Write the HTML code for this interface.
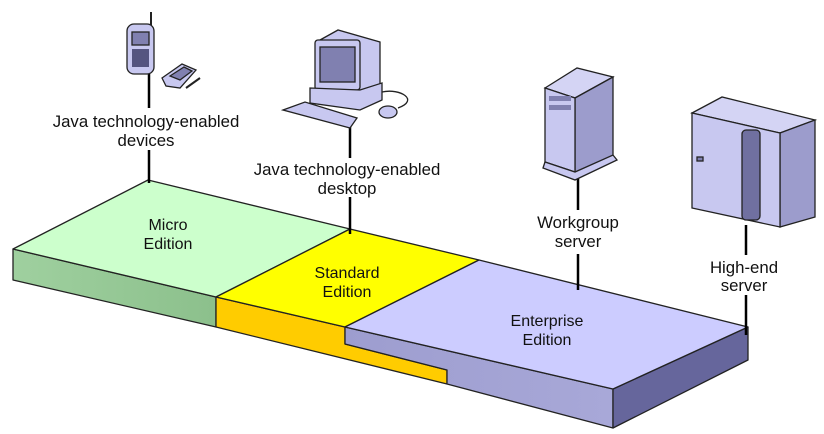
<!DOCTYPE html>
<html><head><meta charset="utf-8"><style>
html,body{margin:0;padding:0;background:#fff;}
svg{display:block;}
text{font-family:"Liberation Sans",sans-serif;font-size:16.8px;fill:#111;text-anchor:middle;}
text.ed{font-size:16px;}
</style></head><body>
<svg width="824" height="434" viewBox="0 0 824 434" xmlns="http://www.w3.org/2000/svg">
<defs>
<linearGradient id="gf" x1="0" x2="1"><stop offset="0" stop-color="#9fd09f"/><stop offset="1" stop-color="#8cc08c"/></linearGradient>
<linearGradient id="ef" x1="0" x2="1"><stop offset="0" stop-color="#9d9dcf"/><stop offset="1" stop-color="#a8a8d8"/></linearGradient>
</defs>
<g stroke="#222" stroke-width="1.3" stroke-linejoin="round">
<polygon points="13,249 216,297 216,327 13,280" fill="url(#gf)"/>
<polygon points="216,297 345,327 345,344 447,370 447,384 216,327" fill="#ffcc00"/>
<polygon points="345,327 613,389 613,428 447,384 447,370 345,344" fill="url(#ef)"/>
<polygon points="613,389 748,327 748,360 613,428" fill="#66669c"/>
<polygon points="148,180 350,229 216,297 13,249" fill="#ccffcc"/>
<polygon points="350,229 479,260 345,327 216,297" fill="#ffff00"/>
<polygon points="479,260 748,327 613,389 345,327" fill="#ccccff"/>
</g>
<g stroke="#000" stroke-width="2.5">
<line x1="149" y1="72" x2="149" y2="108"/><line x1="149" y1="150" x2="149" y2="183"/>
<line x1="350" y1="125" x2="350" y2="158"/><line x1="350" y1="197" x2="350" y2="234"/>
<line x1="578" y1="178" x2="578" y2="210"/><line x1="578" y1="254" x2="578" y2="290"/>
<line x1="746" y1="225" x2="746" y2="255"/><line x1="746" y1="295" x2="746" y2="335"/>
</g>
<text x="146" y="127">Java technology-enabled</text>
<text x="146" y="146">devices</text>
<text x="347" y="175">Java technology-enabled</text>
<text x="347" y="194">desktop</text>
<text class="ed" x="168" y="230">Micro</text><text class="ed" x="168" y="249">Edition</text>
<text class="ed" x="347" y="278">Standard</text><text class="ed" x="347" y="297">Edition</text>
<text class="ed" x="547" y="326">Enterprise</text><text class="ed" x="547" y="345">Edition</text>
<text x="578" y="228">Workgroup</text><text x="578" y="247">server</text>
<text x="744" y="273">High-end</text><text x="744" y="291">server</text>
<g stroke="#222" stroke-width="1.3" fill="#c8c8f0">
<line x1="151" y1="12" x2="151" y2="26" stroke-width="2"/>
<rect x="127" y="24" width="27" height="50" rx="7"/>
<rect x="132" y="32" width="17" height="13" fill="#8080b0"/>
<rect x="132" y="49" width="17" height="18" fill="#555580" stroke="none"/>
<polygon points="162,78 182,64 196,70 180,88 166,86" />
<polygon points="170,76 184,67 192,71 180,80" fill="#8080b0"/>
<line x1="186" y1="88" x2="200" y2="78" stroke-width="2"/>
</g>
<g stroke="#222" stroke-width="1.3" fill="#c8c8f0">
<polygon points="320,40 338,30 380,42 380,88 360,92"/>
<rect x="315" y="40" width="45" height="50" rx="3"/>
<rect x="320" y="47" width="35" height="35" fill="#8080b0"/>
<polygon points="310,88 360,90 382,83 382,100 360,110 310,103"/>
<polygon points="283,110 305,102 357,118 350,128"/>
<path d="M382 92 C400 88 420 100 398 108" fill="none"/>
<ellipse cx="388" cy="112" rx="9" ry="6"/>
</g>
<g stroke="#222" stroke-width="1.3">
<polygon points="545,88 577,68 613,77 575,98" fill="#d4d4f4"/>
<polygon points="575,98 613,77 613,160 575,178" fill="#9c9ccc"/>
<polygon points="545,88 575,98 575,172 545,162" fill="#c8c8f0"/>
<rect x="549" y="96" width="22" height="5" fill="#8080b0" stroke="none"/>
<rect x="549" y="105" width="22" height="5" fill="#8080b0" stroke="none"/>
<polygon points="543,168 545,162 575,172 613,155 617,160 575,180" fill="#c8c8f0"/>
</g>
<g stroke="#222" stroke-width="1.3">
<polygon points="692,113 722,97 815,120 780,133" fill="#d4d4f4"/>
<polygon points="780,133 815,120 815,217 780,227" fill="#9c9ccc"/>
<polygon points="692,113 780,133 780,227 692,208" fill="#c8c8f0"/>
<rect x="742" y="130" width="18" height="90" rx="4" fill="#7070a0"/>
<rect x="697" y="157" width="6" height="4" fill="#8080b0"/>
</g>
</svg>
</body></html>
